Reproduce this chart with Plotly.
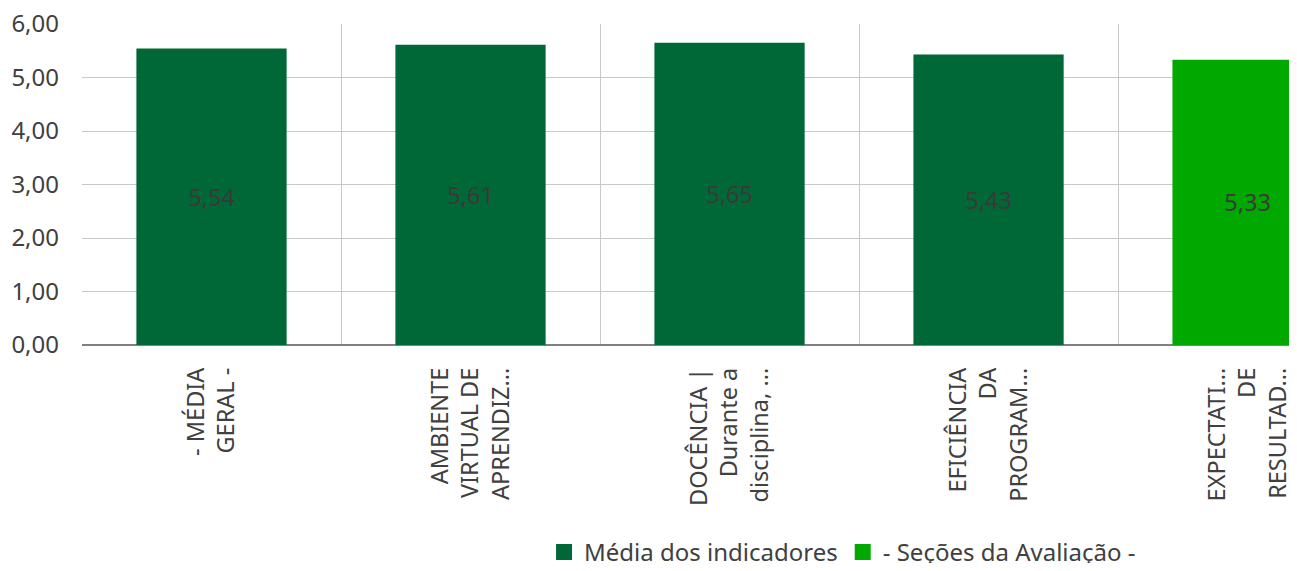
import plotly.graph_objects as go

categories = [
    "- MÉDIA<br>GERAL -",
    "AMBIENTE<br>VIRTUAL DE<br>APRENDIZ...",
    "DOCÊNCIA |<br>Durante a<br>disciplina, ...",
    "EFICIÊNCIA<br>DA<br>PROGRAM...",
    "EXPECTATI...<br>DE<br>RESULTAD...",
]
values = [5.54, 5.61, 5.65, 5.43, 5.33]
series_names = ["Média dos indicadores", "- Seções da Avaliação -"]
y_ticks = [0, 1, 2, 3, 4, 5, 6]

dark_green = "#006837"
bright_green = "#00A800"
txt = "#404040"
font_family = "Noto Sans, Open Sans, sans-serif"


def fmt(v):
    return f"{v:.2f}".replace(".", ",")


fig = go.Figure()
groups = [(categories[:4], values[:4], dark_green, series_names[0]),
          (categories[4:], values[4:], bright_green, series_names[1])]
for cats, vals, col, name in groups:
    fig.add_trace(go.Bar(
        x=cats, y=vals, name=name, legendgroup=name, showlegend=False,
        marker=dict(color=col, line=dict(width=0)),
        width=0.58,
        text=[fmt(v) for v in vals],
        textposition="inside", insidetextanchor="middle",
        textfont=dict(color="#3a3a3a", size=23.5, family=font_family),
    ))
for cats, vals, col, name in groups:
    fig.add_trace(go.Scatter(
        x=[None], y=[None], mode="markers", name=name, legendgroup=name,
        marker=dict(symbol="square", size=16, color=col),
        showlegend=True,
    ))

# the page body has an 8px margin, so the figure is sized to fill the window exactly
fig.update_layout(
    width=1281, height=555,
    margin=dict(l=74, r=0, t=16, b=218, autoexpand=False),
    paper_bgcolor="white", plot_bgcolor="white",
    barmode="overlay",
    separators=",.",
    font=dict(family=font_family, color=txt, size=24),
    showlegend=True,
    legend=dict(
        orientation="h", x=0.3828, xanchor="left", y=-0.646, yanchor="middle",
        font=dict(size=24, color=txt, family=font_family),
        itemsizing="trace",
    ),
    uniformtext=dict(minsize=20, mode="show"),
)
fig.update_xaxes(
    type="category", categoryorder="array", categoryarray=categories,
    range=[-0.5, 4.16], automargin=False,
    tickangle=-90, tickfont=dict(size=23.5, color=txt, family=font_family),
    tickson="boundaries", showgrid=True, gridcolor="#c8c8c8", gridwidth=1,
    ticks="", ticklen=0, showline=False,
    ticklabelstandoff=17, ticklabeloverflow="allow",
)
fig.update_yaxes(
    range=[0, 6], tickvals=y_ticks, tickformat=".2f", automargin=False,
    tickfont=dict(size=24, color=txt, family=font_family),
    showgrid=True, gridcolor="#c8c8c8", gridwidth=1,
    zeroline=True, zerolinecolor="#808080", zerolinewidth=2,
    ticklabelstandoff=22, ticklabeloverflow="allow",
)

fig.write_html("out.html")
